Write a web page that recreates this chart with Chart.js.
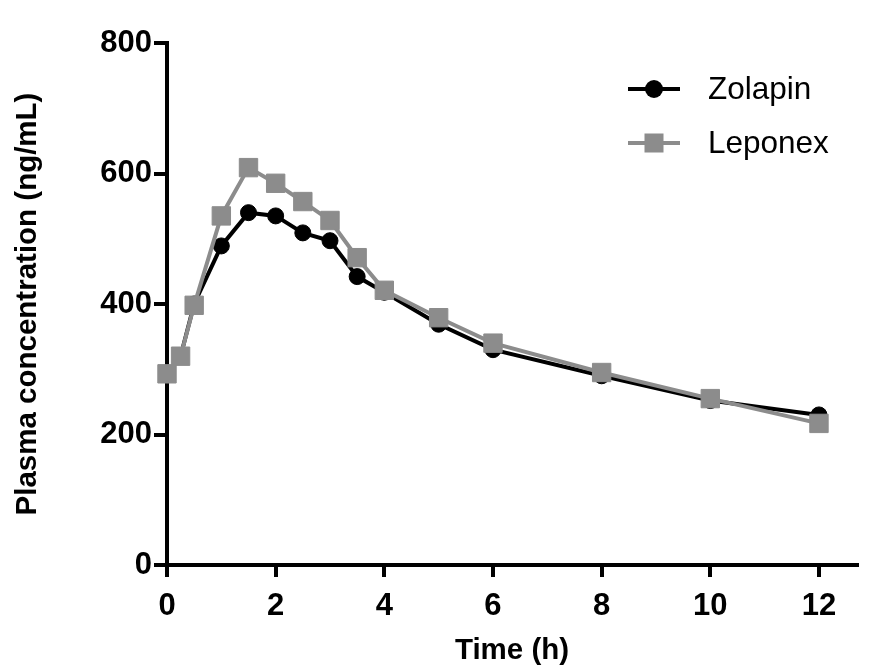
<!DOCTYPE html>
<html lang="en">
<head>
    <meta charset="UTF-8">
    <title>Plasma concentration</title>
    <script src="https://cdn.jsdelivr.net/npm/chart.js"></script>
    <style>
        html, body { margin: 0; padding: 0; background: #fff; }
        canvas { display: block; }
    </style>
</head>
<body>
    <canvas id="pkChart" width="878" height="669"></canvas>

    <script>
        // values
        const times = [0, 0.25, 0.5, 1, 1.5, 2, 2.5, 3, 3.5, 4, 5, 6, 8, 10, 12];
        const zolapin = [293, 320, 400, 489, 540, 535, 509, 497, 442, 418, 369, 330, 290, 252, 230];
        const leponex = [293, 320, 398, 535, 609, 585, 557, 528, 471, 421, 379, 340, 295, 255, 217];
        const xTicks = [0, 2, 4, 6, 8, 10, 12];
        const yTicks = [0, 200, 400, 600, 800];

        const black = '#000000';
        const grey = '#8c8c8c';

        function toPoints(values) {
            return times.map((t, i) => ({ x: t, y: values[i] }));
        }

        // line + marker legend in the top right corner
        const lineLegend = {
            id: 'lineLegend',
            afterDatasetsDraw(chart) {
                const ctx = chart.ctx;
                const rows = [chart.data.datasets[1], chart.data.datasets[0]];
                rows.forEach((ds, i) => {
                    const y = 89 + i * 54;
                    ctx.save();
                    ctx.strokeStyle = ds.borderColor;
                    ctx.lineWidth = 4;
                    ctx.beginPath();
                    ctx.moveTo(628, y);
                    ctx.lineTo(680, y);
                    ctx.stroke();
                    ctx.fillStyle = ds.backgroundColor;
                    if (ds.pointStyle === 'rect') {
                        ctx.fillRect(654 - 9.5, y - 9.5, 19, 19);
                    } else {
                        ctx.beginPath();
                        ctx.arc(654, y, 9, 0, Math.PI * 2);
                        ctx.fill();
                    }
                    ctx.fillStyle = '#000';
                    ctx.font = '31.5px "Liberation Sans", Arial, sans-serif';
                    ctx.textBaseline = 'middle';
                    ctx.fillText(ds.label, 708, y + 1);
                    ctx.restore();
                });
            }
        };

        const tickFont = { family: '"Liberation Sans", Arial, sans-serif', size: 31, weight: 'bold' };
        const titleFont = { family: '"Liberation Sans", Arial, sans-serif', size: 29.5, weight: 'bold' };

        new Chart(document.getElementById('pkChart').getContext('2d'), {
            type: 'line',
            data: {
                datasets: [
                    {
                        label: 'Leponex',
                        data: toPoints(leponex),
                        borderColor: grey,
                        backgroundColor: grey,
                        borderWidth: 4,
                        pointStyle: 'rect',
                        pointRadius: 13,
                        pointBorderWidth: 1,
                        order: 0,
                        clip: false
                    },
                    {
                        label: 'Zolapin',
                        data: toPoints(zolapin),
                        borderColor: black,
                        backgroundColor: black,
                        borderWidth: 4,
                        pointStyle: 'circle',
                        pointRadius: 8,
                        pointBorderWidth: 1,
                        order: 1,
                        clip: false
                    }
                ]
            },
            options: {
                responsive: false,
                animation: false,
                layout: { padding: { top: 43, right: 21, left: 0, bottom: 0 } },
                plugins: {
                    legend: { display: false },
                    tooltip: { enabled: false }
                },
                scales: {
                    x: {
                        type: 'linear',
                        min: 0,
                        max: 12.7,
                        afterBuildTicks: s => { s.ticks = xTicks.map(v => ({ value: v })); },
                        afterFit: s => { s.height = 104; },
                        border: { display: true, color: black, width: 4 },
                        grid: { drawOnChartArea: false, drawTicks: true, tickLength: 12, lineWidth: 4, color: black },
                        ticks: { color: black, font: tickFont, padding: 11, maxRotation: 0 },
                        title: { display: true, text: 'Time (h)', color: black, font: titleFont, padding: 0 }
                    },
                    y: {
                        min: 0,
                        max: 800,
                        afterBuildTicks: s => { s.ticks = yTicks.map(v => ({ value: v })); },
                        afterFit: s => { s.width = 167; },
                        border: { display: true, color: black, width: 4 },
                        grid: { drawOnChartArea: false, drawTicks: true, tickLength: 13, lineWidth: 4, color: black },
                        ticks: { color: black, font: tickFont, padding: 2 },
                        title: { display: true, text: 'Plasma concentration (ng/mL)', color: black, font: titleFont, padding: { top: 10, bottom: 0 } }
                    }
                }
            },
            plugins: [lineLegend]
        });
    </script>
</body>
</html>
